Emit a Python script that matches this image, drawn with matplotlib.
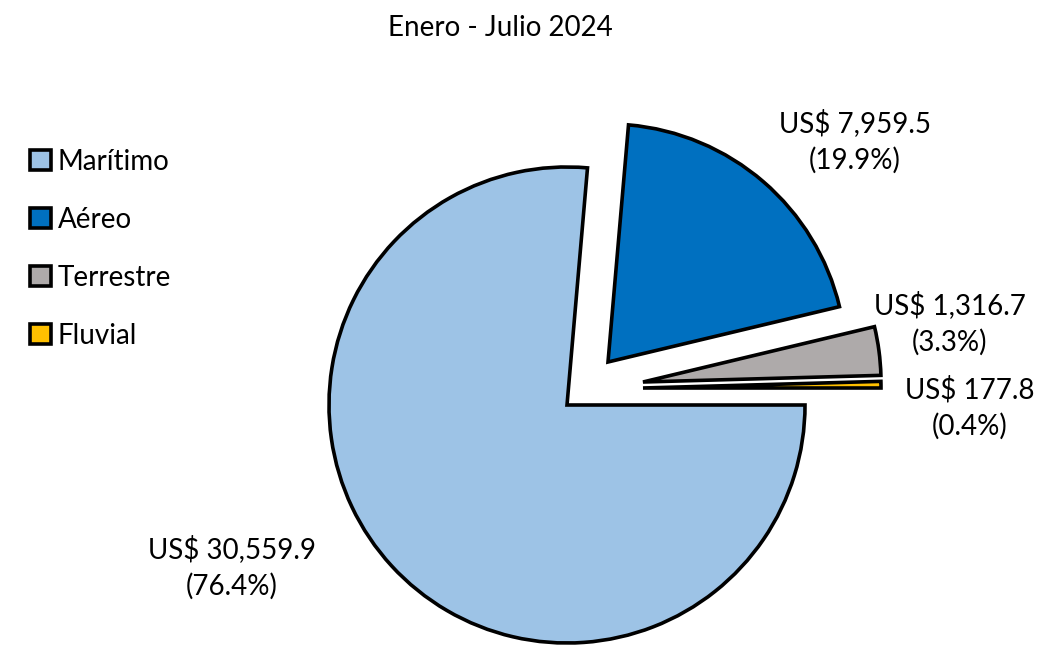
import matplotlib
matplotlib.use("Agg")
import matplotlib.pyplot as plt

categories = ["Marítimo", "Aéreo", "Terrestre", "Fluvial"]
values = [30559.9, 7959.5, 1316.7, 177.8]
percent_labels = ["76.4%", "19.9%", "3.3%", "0.4%"]
colors = ["#9DC3E6", "#0070C0", "#AEAAAA", "#FFC000"]
title = "Enero - Julio 2024"

plt.rcParams['font.family'] = ['Lato', 'DejaVu Sans']

W, H = 1058, 646
fig = plt.figure(figsize=(W / 100, H / 100), dpi=100)
ax = fig.add_axes([0, 0, 1, 1])
R = 238.0
cx, cy = 567.0, 405.0

wedges, _ = ax.pie(values, colors=colors, startangle=0, counterclock=False,
                   explode=[0, 0.25, 0.33, 0.32],
                   wedgeprops=dict(edgecolor='black', linewidth=2.6),
                   frame=True)
ax.axis('off')
ax.set_xlim(-cx / R, (W - cx) / R)
ax.set_ylim(-(H - cy) / R, cy / R)
ax.set_aspect('equal')
# fine offsets of exploded slices as seen in the reference
wedges[1].set_center((41 / R, 43 / R))
wedges[2].set_center((76 / R, 23 / R))
wedges[3].set_center((76 / R, 17 / R))


def px(x, y):
    return ((x - cx) / R, (cy - y) / R)


label_pos = [px(232, 567), px(855, 141), px(950, 323), px(970, 408)]
for v, p, pos in zip(values, percent_labels, label_pos):
    ax.text(pos[0], pos[1], f"US$ {v:,.1f}\n({p})", ha='center', va='center',
            fontsize=20, linespacing=1.45, color='black')

ax.text(*px(500, 28), title, ha='center', va='center', fontsize=20)

leg = ax.legend(wedges, categories, loc='upper left',
                bbox_to_anchor=(16 / W, 1 - 135 / H), frameon=False,
                fontsize=20, handlelength=0.75, handleheight=0.75,
                handletextpad=0.25, labelspacing=1.15, borderpad=0)

fig.savefig("out.png", dpi=100)
